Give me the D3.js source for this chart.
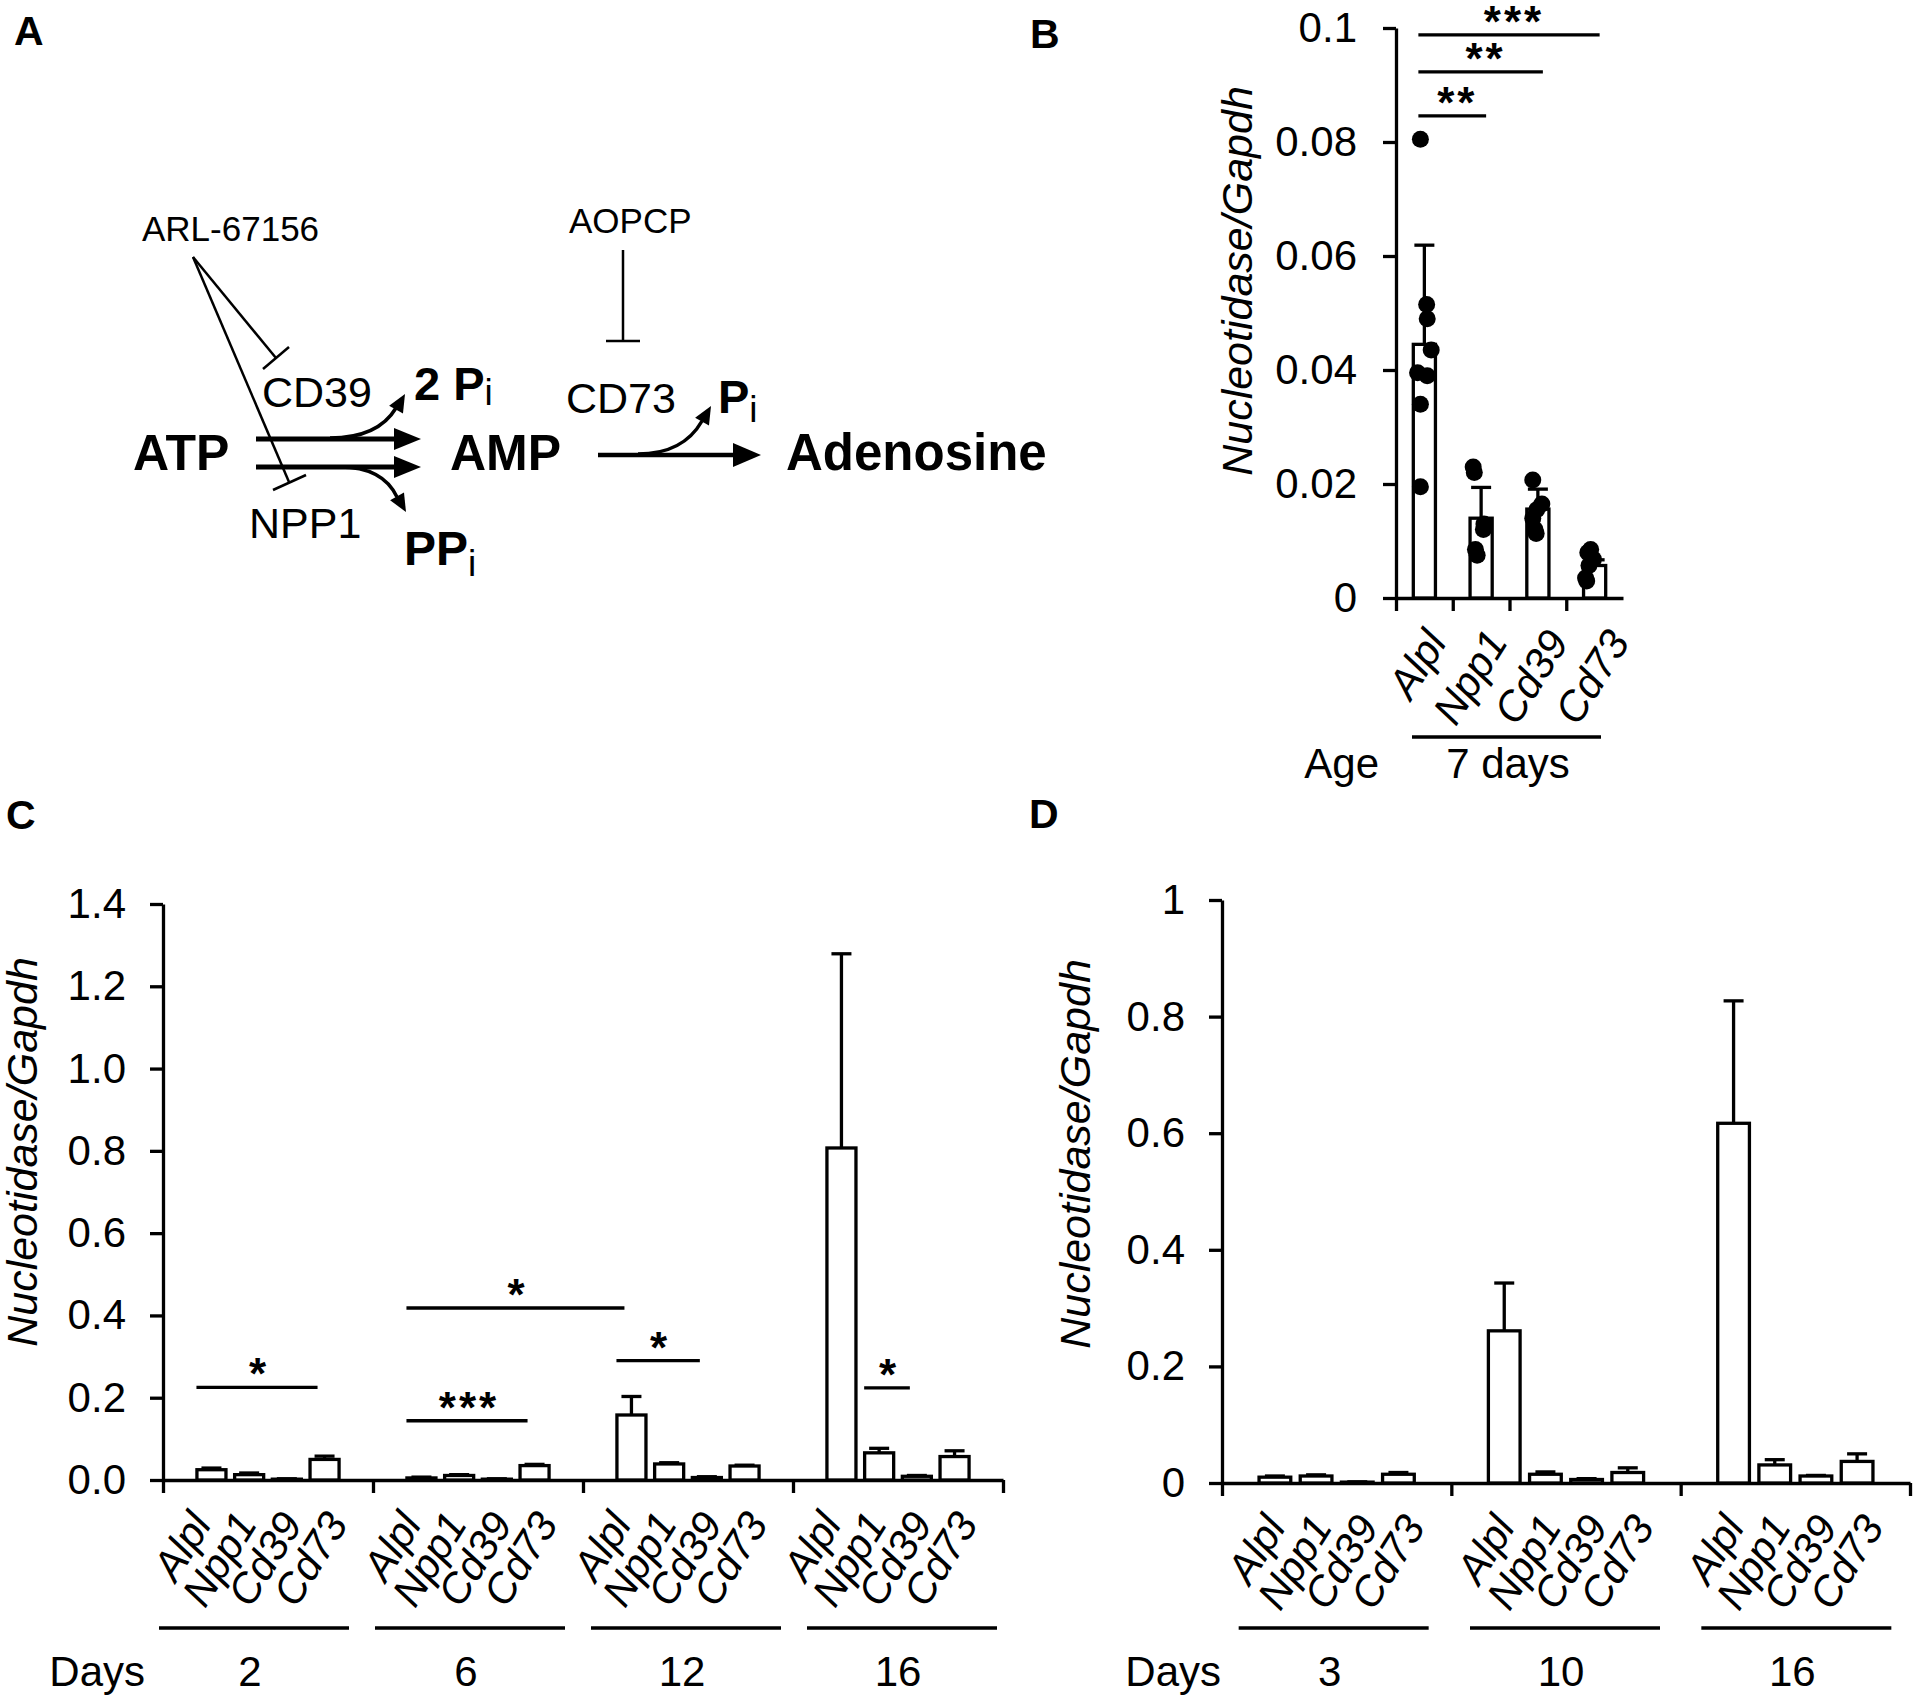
<!DOCTYPE html>
<html><head><meta charset="utf-8">
<script src="https://cdn.jsdelivr.net/npm/d3@7"></script>
<style>
body{margin:0;background:#fff}
svg{display:block;background:#fff}
text{font-family:"Liberation Sans",Arial,Helvetica,sans-serif;fill:#000}
</style>
</head><body>
<svg id="fig" width="1920" height="1703"></svg>
<script>
// ---------------- DATA ----------------
const genes = ["Alpl", "Npp1", "Cd39", "Cd73"];

// Panel B : 7 days
const bMean = [0.0445, 0.0140, 0.0156, 0.0057];
const bSD   = [0.0174, 0.0054, 0.0035, 0.0010];
const bDotsAlpl = [0.0805, 0.0515, 0.049, 0.0435, 0.0395, 0.039, 0.034, 0.0195];
const bDotsNpp1 = [0.023, 0.022, 0.013, 0.012, 0.0085, 0.0075];
const bDotsCd39 = [0.0207, 0.0165, 0.0155, 0.014, 0.012, 0.0113];
const bDotsCd73 = [0.0085, 0.008, 0.0068, 0.0057, 0.0035, 0.003];
const bJitter = [
  [-0.07, 0.04, 0.05, 0.12, -0.12, 0.05, -0.07, -0.07],
  [-0.14, -0.12, 0.05, 0.04, -0.10, -0.07],
  [-0.09, 0.07, -0.02, -0.09, -0.05, -0.03],
  [-0.07, -0.12, -0.02, -0.10, -0.16, -0.14]
];
const bTicks = [0, 0.02, 0.04, 0.06, 0.08, 0.1];
const bSig = [
  {from: 0, to: 3, y: 0.0988, label: "***"},
  {from: 0, to: 2, y: 0.0923, label: "**"},
  {from: 0, to: 1, y: 0.0846, label: "**"}
];

// Panel C : days 2, 6, 12, 16
const cDays = ["2", "6", "12", "16"];
const cAlpl   = [0.025, 0.005, 0.158, 0.807];
const cAlplSD = [0.004, 0.002, 0.045, 0.472];
const cNpp1   = [0.013, 0.011, 0.039, 0.066];
const cNpp1SD = [0.004, 0.002, 0.003, 0.011];
const cCd39   = [0.002, 0.002, 0.006, 0.009];
const cCd39SD = [0.001, 0.001, 0.002, 0.002];
const cCd73   = [0.050, 0.035, 0.034, 0.057];
const cCd73SD = [0.008, 0.003, 0.002, 0.014];
const cTicks = [0, 0.2, 0.4, 0.6, 0.8, 1.0, 1.2, 1.4];
const cSig = [
  {from: [0, 0], to: [0, 3], y: 0.225, label: "*"},
  {from: [1, 0], to: [1, 3], y: 0.144, label: "***"},
  {from: [1, 0], to: [2, 0], y: 0.418, label: "*"},
  {from: [2, 0], to: [2, 2], y: 0.290, label: "*"},
  {from: [3, 1], to: [3, 2], y: 0.224, label: "*"}
];

// Panel D : days 3, 10, 16
const dDays = ["3", "10", "16"];
const dAlpl   = [0.010, 0.261, 0.617];
const dAlplSD = [0.002, 0.082, 0.210];
const dNpp1   = [0.012, 0.015, 0.031];
const dNpp1SD = [0.002, 0.004, 0.009];
const dCd39   = [0.0015, 0.006, 0.012];
const dCd39SD = [0.0005, 0.0015, 0.001];
const dCd73   = [0.015, 0.018, 0.037];
const dCd73SD = [0.003, 0.008, 0.013];
const dTicks = [0, 0.2, 0.4, 0.6, 0.8, 1];

// ---------------- DRAWING ----------------
const svg = d3.select("#fig");
svg.append("rect").attr("width", 1920).attr("height", 1703).attr("fill", "#fff");
const SW = 3.3;        // line width
const FS = 42;         // tick font size
const ANG = -58;       // category label rotation

function txt(g, s, x, y, size, opts = {}) {
  const t = g.append("text").attr("x", x).attr("y", y).attr("font-size", size).text(s);
  if (opts.bold) t.attr("font-weight", "bold");
  if (opts.italic) t.attr("font-style", "italic");
  if (opts.anchor) t.attr("text-anchor", opts.anchor);
  if (opts.ls) t.attr("letter-spacing", opts.ls);
  return t;
}
function styleAxis(sel) {
  sel.selectAll("path,line").attr("stroke", "#000").attr("stroke-width", SW);
  sel.selectAll("text").attr("font-size", FS).attr("fill", "#000")
     .attr("font-family", '"Liberation Sans",Arial,sans-serif');
}
function star(g, label, x, y) {
  txt(g, label, x, y, 44, {bold: true, anchor: "middle", ls: 3}).attr("dx", 2);
}
function catLabel(g, s, x, y) {
  g.append("text").attr("transform", `translate(${x},${y}) rotate(${ANG})`)
    .attr("text-anchor", "end").attr("font-size", FS).attr("font-style", "italic").text(s);
}
function yTitle(g, x, y) {
  g.append("text").attr("transform", `translate(${x},${y}) rotate(-90)`).attr("text-anchor", "middle")
    .attr("font-size", 43).attr("font-style", "italic").text("Nucleotidase/Gapdh");
}

// ---------- Panel letters ----------
txt(svg, "A", 14, 45, 41, {bold: true});
txt(svg, "B", 1030, 48, 41, {bold: true});
txt(svg, "C", 6, 829, 41, {bold: true});
txt(svg, "D", 1029, 828, 41, {bold: true});

// ---------- Panel A : schematic ----------
(function panelA() {
  const g = svg.append("g");
  txt(g, "ARL-67156", 142, 241, 35);
  txt(g, "AOPCP", 569, 233, 35);
  txt(g, "CD39", 262, 407, 43);
  const t2 = txt(g, "2 P", 414, 400, 47, {bold: true});
  t2.append("tspan").attr("font-weight", "normal").attr("font-size", 37).attr("dy", 5).text("i");
  txt(g, "CD73", 566, 413, 43);
  const tp = txt(g, "P", 718, 413, 47, {bold: true});
  tp.append("tspan").attr("font-weight", "normal").attr("font-size", 37).attr("dy", 9).text("i");
  txt(g, "ATP", 133, 470, 50, {bold: true});
  txt(g, "AMP", 450, 470, 50, {bold: true});
  txt(g, "Adenosine", 786, 470, 51, {bold: true});
  txt(g, "NPP1", 249, 538, 43);
  const tpp = txt(g, "PP", 404, 565, 48, {bold: true});
  tpp.append("tspan").attr("font-weight", "normal").attr("font-size", 37).attr("dy", 11).text("i");

  const line = (x1, y1, x2, y2, w) => g.append("line").attr("x1", x1).attr("y1", y1)
      .attr("x2", x2).attr("y2", y2).attr("stroke", "#000").attr("stroke-width", w);
  const head = (tx, ty, ang, len, hw) => {
    const c = Math.cos(ang), s = Math.sin(ang);
    const bx = tx - len * c, by = ty - len * s;
    g.append("path").attr("d",
      `M${tx},${ty}L${bx - hw * s},${by + hw * c}L${bx + hw * s},${by - hw * c}Z`).attr("fill", "#000");
  };
  // main arrows
  line(256, 439, 398, 439, 5); head(421, 439, 0, 27, 11);
  line(256, 467, 398, 467, 5); head(421, 467, 0, 27, 11);
  line(598, 455, 736, 455, 4.5); head(761, 455, 0, 28, 12);
  // side curved arrows
  const curve = (d) => g.append("path").attr("d", d).attr("fill", "none").attr("stroke", "#000").attr("stroke-width", 3.5);
  curve("M330,438 C362,438 384,428 396,408"); head(405, 394, -1.05, 18, 8);
  curve("M340,467 C370,467 388,478 397,497"); head(406, 512, 1.05, 18, 8);
  curve("M638,454 C670,454 690,442 702,421"); head(711, 406, -1.05, 18, 8);
  // inhibition lines
  line(193, 257, 276, 358, 2.5); line(263, 369, 289, 347, 2.5);
  line(193, 257, 289, 482, 2.5); line(273, 490, 306, 475, 2.5);
  line(623, 250, 623, 341, 2.5); line(606, 341, 640, 341, 2.5);
})();

// ---------- Panel B ----------
(function panelB() {
  const g = svg.append("g");
  const X0 = 1396, X1 = 1623, Y0 = 598, Y1 = 28;
  const x = d3.scaleBand().domain(genes).range([X0, X1]).paddingInner(0.61).paddingOuter(0.305);
  const y = d3.scaleLinear().domain([0, 0.1]).range([Y0, Y1]);
  const cx = k => x(genes[k]) + x.bandwidth() / 2;

  const ya = g.append("g").attr("transform", `translate(${X0},0)`)
    .call(d3.axisLeft(y).tickValues(bTicks).tickFormat(d => String(d)).tickSize(13).tickSizeOuter(0).tickPadding(26));
  styleAxis(ya);
  const xl = d3.scaleLinear().domain([0, 4]).range([X0, X1]);
  const xa = g.append("g").attr("transform", `translate(0,${Y0})`)
    .call(d3.axisBottom(xl).tickValues([0, 1, 2, 3]).tickFormat("").tickSize(13).tickSizeOuter(0));
  styleAxis(xa);

  g.selectAll("rect.bar").data(bMean).join("rect").attr("class", "bar")
    .attr("x", (d, i) => x(genes[i])).attr("width", x.bandwidth())
    .attr("y", d => y(d)).attr("height", d => Y0 - y(d))
    .attr("fill", "#fff").attr("stroke", "#000").attr("stroke-width", SW);
  bMean.forEach((m, i) => {
    const c = cx(i), top = y(m + bSD[i]);
    g.append("line").attr("x1", c).attr("x2", c).attr("y1", y(m)).attr("y2", top).attr("stroke", "#000").attr("stroke-width", SW);
    g.append("line").attr("x1", c - 10).attr("x2", c + 10).attr("y1", top).attr("y2", top).attr("stroke", "#000").attr("stroke-width", SW);
  });
  const dots = [bDotsAlpl, bDotsNpp1, bDotsCd39, bDotsCd73];
  dots.forEach((arr, k) => {
    g.selectAll(null).data(arr).join("circle")
      .attr("cx", (d, j) => cx(k) + bJitter[k][j] * x.step())
      .attr("cy", d => y(d)).attr("r", 8.5).attr("fill", "#000");
  });
  bSig.forEach(s => {
    const x1 = cx(s.from) - 6, x2 = cx(s.to) + 5, yy = y(s.y);
    g.append("line").attr("x1", x1).attr("x2", x2).attr("y1", yy).attr("y2", yy).attr("stroke", "#000").attr("stroke-width", SW);
    star(g, s.label, (x1 + x2) / 2 + 3, yy + 2);
  });
  // category labels: spread slightly wider than the bars
  const lp = d3.scalePoint().domain(genes).range([-1.5 * 61, 1.5 * 61]);
  const mid = (X0 + X1) / 2;
  genes.forEach(gn => catLabel(g, gn, mid + lp(gn) + 30, Y0 + 44));
  g.append("line").attr("x1", 1412).attr("x2", 1601).attr("y1", 737).attr("y2", 737).attr("stroke", "#000").attr("stroke-width", SW);
  txt(g, "Age", 1379, 778, FS, {anchor: "end"});
  txt(g, "7 days", 1508, 778, FS, {anchor: "middle"});
  yTitle(g, 1252, 281);
})();

// ---------- Grouped panels C & D ----------
function groupedPanel(o) {
  const g = svg.append("g");
  const n = o.groups.length;
  const xg = d3.scaleBand().domain(o.groups).range([o.x0, o.x1]);
  const xi = d3.scaleBand().domain(genes).range([0, xg.bandwidth()]).paddingInner(0.23).paddingOuter(0.9);
  const y = d3.scaleLinear().domain([0, o.ymax]).range([o.y0, o.y1]);
  const cx = (gi, k) => xg(o.groups[gi]) + xi(genes[k]) + xi.bandwidth() / 2;
  const gc = gi => xg(o.groups[gi]) + xg.bandwidth() / 2;

  const ya = g.append("g").attr("transform", `translate(${o.x0},0)`)
    .call(d3.axisLeft(y).tickValues(o.ticks).tickFormat(o.fmt).tickSize(13).tickSizeOuter(0).tickPadding(24));
  styleAxis(ya);
  const xl = d3.scaleLinear().domain([0, n]).range([o.x0, o.x1]);
  const xa = g.append("g").attr("transform", `translate(0,${o.y0})`)
    .call(d3.axisBottom(xl).tickValues(d3.range(n + 1)).tickFormat("").tickSize(13).tickSizeOuter(0));
  styleAxis(xa);

  const bars = [];
  o.groups.forEach((gr, gi) => genes.forEach((gn, k) =>
    bars.push({gi, k, v: o.series[k][gi], sd: o.sds[k][gi]})));
  g.selectAll("rect.bar").data(bars).join("rect").attr("class", "bar")
    .attr("x", d => xg(o.groups[d.gi]) + xi(genes[d.k])).attr("width", xi.bandwidth())
    .attr("y", d => y(d.v)).attr("height", d => o.y0 - y(d.v))
    .attr("fill", "#fff").attr("stroke", "#000").attr("stroke-width", SW);
  bars.forEach(d => {
    const c = cx(d.gi, d.k), top = y(d.v + d.sd);
    g.append("line").attr("x1", c).attr("x2", c).attr("y1", y(d.v)).attr("y2", top).attr("stroke", "#000").attr("stroke-width", SW);
    g.append("line").attr("x1", c - 10).attr("x2", c + 10).attr("y1", top).attr("y2", top).attr("stroke", "#000").attr("stroke-width", SW);
  });
  (o.sigs || []).forEach(s => {
    const x1 = cx(s.from[0], s.from[1]) - 15, x2 = cx(s.to[0], s.to[1]) - 7, yy = y(s.y);
    g.append("line").attr("x1", x1).attr("x2", x2).attr("y1", yy).attr("y2", yy).attr("stroke", "#000").attr("stroke-width", SW);
    star(g, s.label, (x1 + x2) / 2, yy + 2);
  });
  const lp = d3.scalePoint().domain(genes).range([-1.5 * o.lstep, 1.5 * o.lstep]);
  o.groups.forEach((gr, gi) => genes.forEach(gn =>
    catLabel(g, gn, gc(gi) + lp(gn) + o.ldx, o.y0 + 44)));
  o.groups.forEach((gr, gi) => {
    const c = gc(gi) + (gi - (n - 1) / 2) * o.lineSpread + o.lineShift;
    g.append("line").attr("x1", c - 95).attr("x2", c + 95).attr("y1", 1628).attr("y2", 1628).attr("stroke", "#000").attr("stroke-width", SW);
    txt(g, gr, c - 4, 1686, FS, {anchor: "middle"});
  });
  txt(g, "Days", o.daysRight, 1686, FS, {anchor: "end"});
  yTitle(g, o.tx, o.ty);
}

groupedPanel({
  groups: cDays, series: [cAlpl, cNpp1, cCd39, cCd73], sds: [cAlplSD, cNpp1SD, cCd39SD, cCd73SD],
  x0: 163, x1: 1003, y0: 1480, y1: 904, ymax: 1.4, ticks: cTicks, fmt: d3.format(".1f"),
  lstep: 45.5, ldx: 13, lineSpread: 6, lineShift: -5,
  daysRight: 145, tx: 37, ty: 1152, sigs: cSig
});
groupedPanel({
  groups: dDays, series: [dAlpl, dNpp1, dCd39, dCd73], sds: [dAlplSD, dNpp1SD, dCd39SD, dCd73SD],
  x0: 1222, x1: 1910, y0: 1483, y1: 900, ymax: 1, ticks: dTicks, fmt: d => String(d),
  lstep: 46.5, ldx: 20, lineSpread: 2, lineShift: -1,
  daysRight: 1221, tx: 1090, ty: 1154, sigs: []
});
</script>
</body></html>
